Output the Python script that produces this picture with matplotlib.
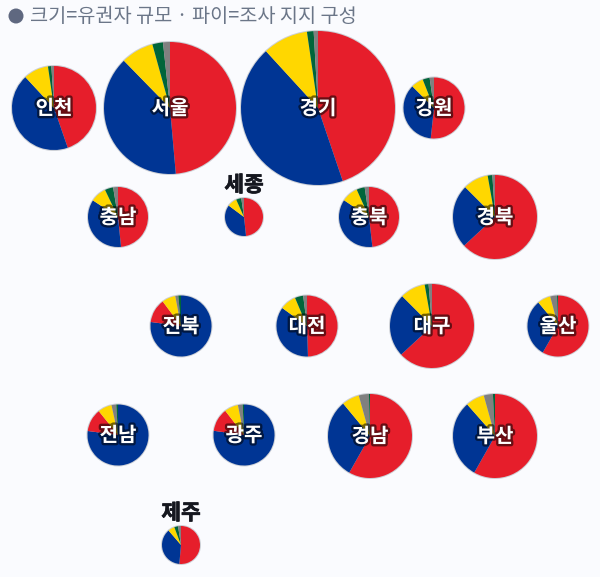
import matplotlib
matplotlib.use("Agg")
import matplotlib.pyplot as plt
import matplotlib.patheffects as pe
from matplotlib.patches import Circle

plt.rcParams['font.family'] = ['Noto Sans CJK KR', 'DejaVu Sans']

regions = ['인천', '서울', '경기', '강원', '충남', '세종', '충북', '경북', '전북', '대전', '대구', '울산', '전남', '광주', '경남', '부산', '제주']
red    = [44.7, 48.6, 44.8, 51.7, 48.4, 48.3, 48.2, 63.1, 12.7, 49.5, 63.1, 58.3, 12.1, 12.3, 58.2, 58.2, 51.4]
blue   = [43.4, 39.1, 43.4, 35.8, 35.9, 36.9, 36.2, 24.4, 77.1, 35.5, 24.4, 30.6, 77.1, 77.2, 30.8, 30.3, 37.3]
yellow = [9.6, 8.0, 9.5, 6.5, 8.6, 8.1, 8.9, 9.7, 7.2, 8.6, 9.7, 7.0, 7.4, 7.3, 6.7, 7.2, 5.6]
green  = [1.3, 2.6, 1.4, 3.7, 4.5, 4.4, 4.4, 1.8, 1.4, 4.4, 1.5, 0.5, 0.9, 0.7, 0.4, 0.8, 3.2]
gray   = [1.0, 1.7, 0.9, 2.3, 2.6, 2.3, 2.3, 1.0, 1.6, 2.0, 1.3, 3.6, 2.5, 2.5, 3.9, 3.5, 2.5]
party_colors = ['#E61E2B', '#003594', '#FFD700', '#00653A', '#808080']
title = '크기=유권자 규모 · 파이=조사 지지 구성'

# layout, in pixels of the 600x577 canvas
cx = [54, 170, 318, 434, 118, 244, 369, 495, 181, 307, 432, 558, 118, 244, 370, 495, 181]
cy = [108, 108, 108, 108, 217, 217, 217, 217, 326, 326, 326, 326, 435, 435, 436, 436, 545]
radius = [42, 66, 77, 30.5, 30, 19, 30, 42, 30.5, 30.5, 42, 30.5, 30.5, 30.5, 42, 42, 19]
outside = {'세종', '제주'}
W, H = 600, 577
BG = '#FAFBFE'

fig = plt.figure(figsize=(W / 100, H / 100), dpi=100, facecolor=BG)
ax = fig.add_axes([0, 0, 1, 1], facecolor=BG)

for i, name in enumerate(regions):
    x, y, r = cx[i], H - cy[i], radius[i]
    pairs = sorted(zip([red[i], blue[i], yellow[i], green[i], gray[i]], party_colors),
                   key=lambda p: -p[0])
    vals = [p[0] for p in pairs]
    cols = [p[1] for p in pairs]
    ax.add_patch(Circle((x, y), r + 1.0, fc='#CDD0D6', ec='none', zorder=1))
    wedges, _ = ax.pie(vals, colors=cols, center=(x, y), radius=r, startangle=90,
                       counterclock=False, normalize=True,
                       wedgeprops=dict(linewidth=0))
    for w in wedges:
        w.set_zorder(2)
    if name in outside:
        ax.text(x, y + r + 13, name, ha='center', va='center', fontsize=15.4, fontweight='bold',
                color='#15171F', zorder=5,
                path_effects=[pe.withStroke(linewidth=0.5, foreground='#15171F')])
    else:
        ax.text(x, y, name, ha='center', va='center', fontsize=14.4, fontweight='bold',
                color='white', zorder=5,
                path_effects=[pe.Stroke(linewidth=3.4, foreground='black', alpha=0.55), pe.Normal()])

ax.add_patch(Circle((16, H - 16), 7.5, fc='#5F6880', ec='none', zorder=3))
ax.text(30, H - 16.5, title, ha='left', va='center', fontsize=14.2, color='#6B7688', zorder=5)

ax.set_xlim(0, W)
ax.set_ylim(0, H)
ax.set_aspect('equal')
ax.axis('off')
fig.savefig('out.png', dpi=100, facecolor=BG)
